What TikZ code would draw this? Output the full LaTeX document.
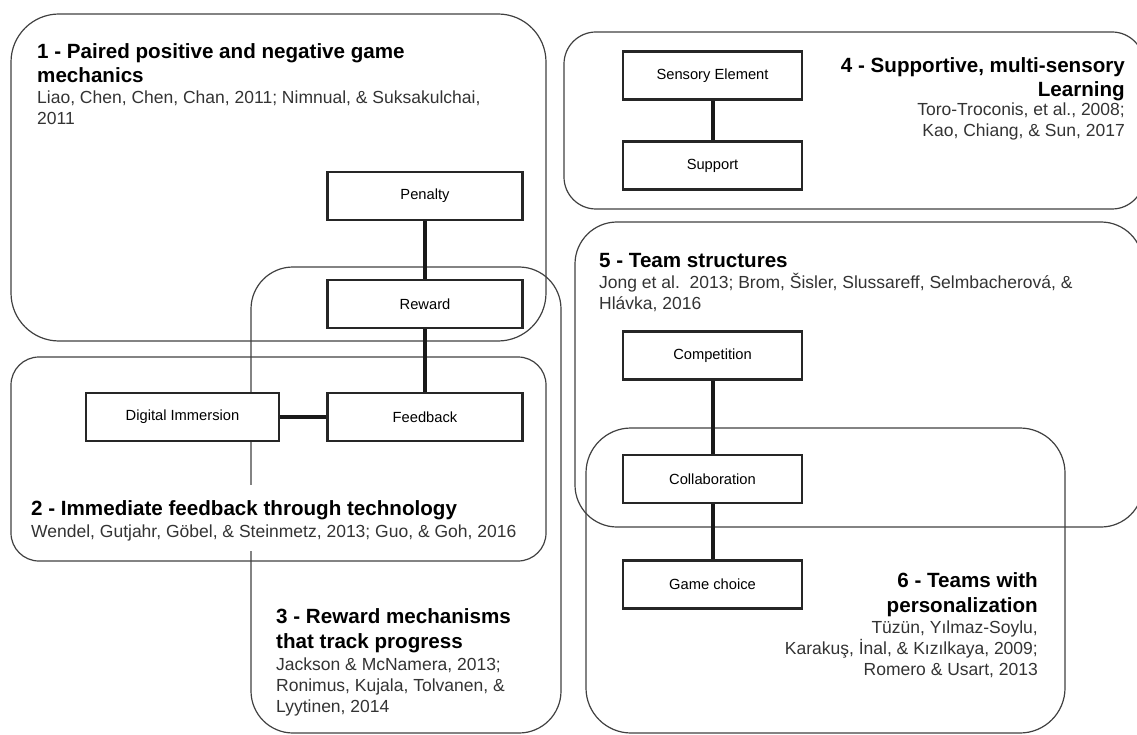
\documentclass[tikz,border=0pt]{standalone}
\usepackage{fontspec}
\setmainfont{Liberation Sans}

\tikzset{
  group/.style={draw=black!75, line width=1.2pt, rounded corners=#1},
  item/.style={rectangle, draw=black!85, line width=2.2pt, fill=white, minimum width=195pt, minimum height=48pt, font=\fontsize{14.7}{17}\selectfont},
  link/.style={draw=black!90, line width=4pt},
  heading/.style={inner sep=0pt, font=\fontsize{20.6}{24.5}\selectfont\bfseries},
  cite/.style={inner sep=0pt, text=black!80, font=\fontsize{17.5}{21}\selectfont},
}

\begin{document}
\begin{tikzpicture}[x=1pt, y=-1pt]
\useasboundingbox (0,0) rectangle (1137,735);
\clip (0,0) rectangle (1137,735);

% Groups
\draw[group=48pt] (11,14) rectangle (546,341);
\draw[group=28pt] (11,357) rectangle (546,561);
\draw[group=42pt] (251,267) rectangle (561,733);
\draw[group=32pt] (564,32) rectangle (1144,209);
\draw[group=42pt] (575,222) rectangle (1143,527);
\draw[group=45pt] (586,428) rectangle (1065,733);

% 1 - Paired positive and negative game mechanics
\node[heading, anchor=base west, align=left] (t1) at (37,83) {1 - Paired positive and negative game\\mechanics};
\node[cite, anchor=base west, align=left] (c1) at (37,125) {Liao, Chen, Chen, Chan, 2011; Nimnual, \& Suksakulchai,\\2011};

% 2 - Immediate feedback
\node[heading, anchor=base west, fill=white, text height=30pt, text depth=8pt] (t2) at (31,515) {2 - Immediate feedback through technology};
\node[cite, anchor=base west, fill=white, text height=14pt, text depth=14pt] (c2) at (31,537) {Wendel, Gutjahr, Göbel, \& Steinmetz, 2013; Guo, \& Goh, 2016};

% 3 - Reward mechanisms
\node[heading, anchor=base west, align=left] (t3) at (276,648) {3 - Reward mechanisms\\that track progress};
\node[cite, anchor=base west, align=left] (c3) at (276,712) {Jackson \& McNamera, 2013;\\Ronimus, Kujala, Tolvanen, \&\\Lyytinen, 2014};

% 4 - Supportive, multi-sensory Learning
\node[heading, anchor=base east, align=right] (t4) at (1125,97) {4 - Supportive, multi-sensory\\Learning};
\node[cite, anchor=base east, align=right] (c4) at (1125,137) {Toro-Troconis, et al., 2008;\\Kao, Chiang, \& Sun, 2017};

% 5 - Team structures
\node[heading, anchor=base west] (t5) at (599,267) {5 - Team structures};
\node[cite, anchor=base west, align=left] (c5) at (599,309) {Jong et al.\ \ 2013; Brom, Šisler, Slussareff, Selmbacherová, \&\\Hlávka, 2016};

% 6 - Teams with personalization
\node[heading, anchor=base east, align=right] (t6) at (1038,612) {6 - Teams with\\personalization};
\node[cite, anchor=base east, align=right] (c6) at (1038,675) {Tüzün, Yılmaz-Soylu,\\Karakuş, İnal, \& Kızılkaya, 2009;\\Romero \& Usart, 2013};

% Elements
\node[item] (penalty) at (425,196) {Penalty};
\node[item] (reward) at (425,304) {Reward};
\node[item] (feedback) at (425,417) {Feedback};
\node[item, minimum width=193pt] (immersion) at (182.5,417) {Digital Immersion};
\node[item, minimum width=179pt] (sensory) at (712.5,75.5) {Sensory Element};
\node[item, minimum width=179pt] (support) at (712.5,165.5) {Support};
\node[item, minimum width=179pt] (competition) at (712.5,355.5) {Competition};
\node[item, minimum width=179pt] (collaboration) at (712.5,479) {Collaboration};
\node[item, minimum width=179pt] (choice) at (712.5,584.5) {Game choice};

% Links
\draw[link] (penalty) -- (reward);
\draw[link] (reward) -- (feedback);
\draw[link] (immersion) -- (feedback);
\draw[link] (sensory) -- (support);
\draw[link] (competition) -- (collaboration);
\draw[link] (collaboration) -- (choice);
\end{tikzpicture}
\end{document}
